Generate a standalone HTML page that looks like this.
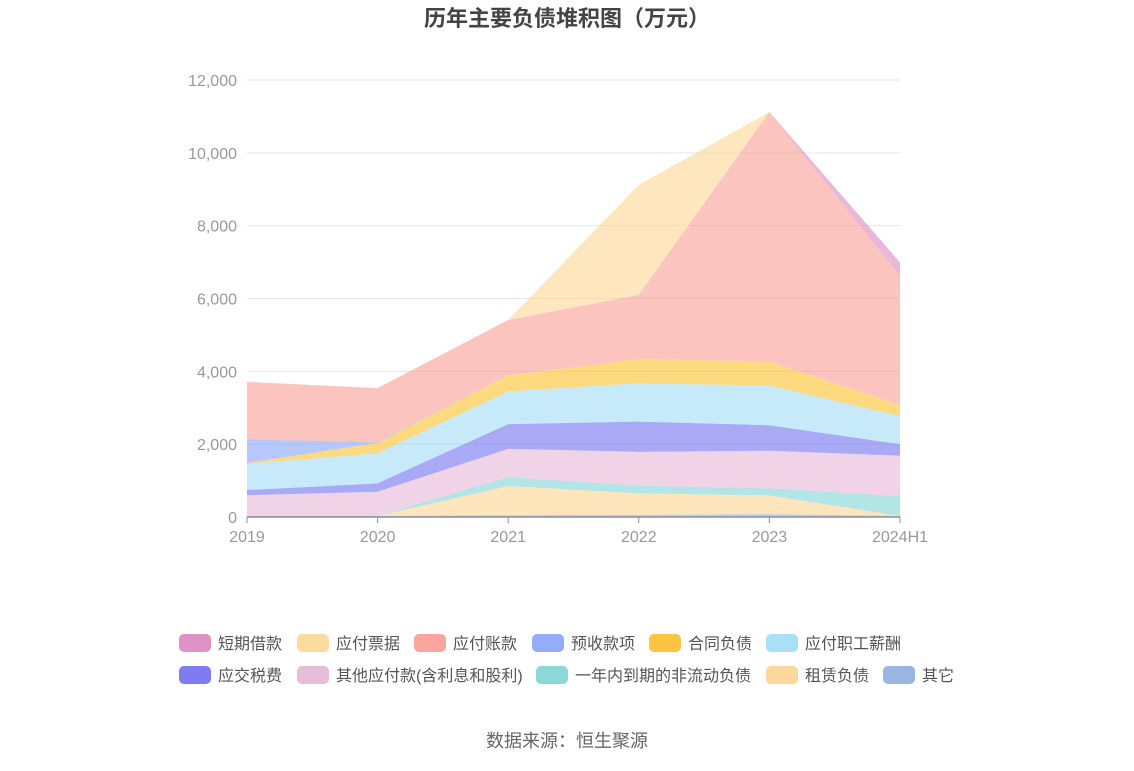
<!DOCTYPE html>
<html><head><meta charset="utf-8"><style>
body{margin:0;background:#fff;font-family:"Liberation Sans","Noto Sans CJK SC",sans-serif;}
</style></head><body>
<svg id="c" width="1134" height="766" xmlns="http://www.w3.org/2000/svg" style="font-family:'Liberation Sans','Noto Sans CJK SC',sans-serif">
<text x="567" y="26" text-anchor="middle" font-size="22" font-weight="bold" fill="#444">历年主要负债堆积图（万元）</text>
<g id="grid"></g><g id="areas"></g><g id="axes"></g><g id="legend"></g>
<text x="567" y="747" text-anchor="middle" font-size="18" fill="#666">数据来源：恒生聚源</text>
</svg>
<script>
const categories=["2019","2020","2021","2022","2023","2024H1"];
const seriesNames=["其它","租赁负债","一年内到期的非流动负债","其他应付款(含利息和股利)","应交税费","应付职工薪酬","合同负债","预收款项","应付账款","应付票据","短期借款"];
const sOther=[30,30,50,60,80,30];
const sLease=[0,0,800,590,510,0];
const sCurrentNC=[0,0,250,210,200,545];
const sOtherPay=[570,665,770,930,1030,1110];
const sTax=[140,230,680,830,700,315];
const sSalary=[720,825,900,1050,1090,770];
const sContract=[20,290,440,670,660,305];
const sAdvance=[650,20,0,0,0,0];
const sPayable=[1580,1480,1520,1760,6850,3550];
const sNotes=[0,0,0,3020,0,0];
const sShort=[0,0,0,0,0,365];
const yTicks=[0,2000,4000,6000,8000,10000,12000];
const seriesData=[sOther,sLease,sCurrentNC,sOtherPay,sTax,sSalary,sContract,sAdvance,sPayable,sNotes,sShort];
const colors=["#8fadde","#fdd48f","#7fd3d4","#e6b6d6","#6f6ff0","#a0dcf6","#fbbf2c","#87a4f7","#f89c95","#fdd795","#d987c0"];
const X0=247,X1=900,Y0=517,YT=80,YMAX=12000;
const xs=i=>X0+(X1-X0)*i/(categories.length-1);
const ys=v=>Y0-(Y0-YT)*v/YMAX;
const NS="http://www.w3.org/2000/svg";
function mk(t,a,p){const e=document.createElementNS(NS,t);for(const k in a)e.setAttribute(k,a[k]);p.appendChild(e);return e;}
const grid=document.getElementById('grid'),axes=document.getElementById('axes'),areas=document.getElementById('areas'),leg=document.getElementById('legend');
yTicks.forEach(v=>{
 const l=mk('line',{x1:X0,x2:X1,y1:ys(v),y2:ys(v),stroke:'#e3e6f0','stroke-width':1},grid);
 
 
 const t=mk('text',{x:237,y:ys(v)+6,'text-anchor':'end','font-size':16,fill:'#999'},axes);
 t.textContent=v.toLocaleString('en-US');
 
 
});
const cum=categories.map(()=>0);
seriesData.forEach((s,k)=>{
 const lo=cum.slice();
 s.forEach((v,i)=>cum[i]+=v);
 let d='M'+categories.map((c,i)=>xs(i)+','+ys(cum[i])).join('L');
 for(let i=categories.length-1;i>=0;i--)d+='L'+xs(i)+','+ys(lo[i]);
 const p=mk('path',{d:d+'Z',fill:colors[k],'fill-opacity':0.6},areas);
 
 
});
const ax=mk('line',{x1:X0,x2:X1,y1:Y0,y2:Y0,stroke:'#8a8f9c','stroke-width':1.5},axes);


categories.forEach((c,i)=>{
 const tk=mk('line',{x1:xs(i),x2:xs(i),y1:Y0,y2:Y0+6,stroke:'#8a8f9c'},axes);
 
 
 const t=mk('text',{x:xs(i),y:542,'text-anchor':'middle','font-size':16,fill:'#999'},axes);
 t.textContent=c;
 
 
});
const legOrder=[10,9,8,7,6,5,4,3,2,1,0];
const legPos=[[179,643],[297,643],[414,643],[532,643],[649,643],[766,643],[179,675],[297,675],[536,675],[766,675],[883,675]];
legOrder.forEach((k,j)=>{
 const [x,y]=legPos[j];
 const g=mk('g',{},leg);
 
 
 mk('rect',{x:x,y:y-9,width:32,height:18,rx:5,fill:colors[k],'fill-opacity':0.9},g);
 const t=mk('text',{x:x+39,y:y+6,'font-size':16,fill:'#555'},g);
 t.textContent=seriesNames[k];
});
</script>
</body></html>
